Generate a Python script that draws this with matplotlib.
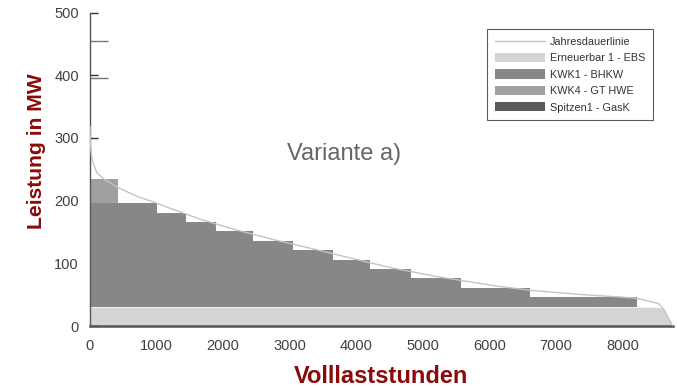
import matplotlib.pyplot as plt
import numpy as np

plt.rcParams['font.family'] = ['Liberation Sans', 'DejaVu Sans']

# Jahresdauerlinie (Stunden, MW)
dauer_h = [0, 5, 30, 100, 200, 400, 700, 1000, 1225, 1665, 2170, 2750, 3350,
           3930, 4520, 5200, 6090, 6610, 7400, 8000, 8225, 8540, 8620, 8680,
           8730, 8760]
dauer_mw = [318, 290, 265, 245, 235, 222, 207, 196, 187, 170, 154, 138, 123,
            108, 93, 79, 64, 57, 50, 46, 44, 36, 27, 15, 5, 0]

# Erneuerbar 1 - EBS (Grundlast)
ebs_mw = 30

# KWK1 - BHKW: Stufen (Grenzen in Stunden, Leistung oberhalb EBS)
bhkw_edges = [0, 1010, 1440, 1890, 2450, 3050, 3650, 4210, 4830, 5575, 6610, 8225]
bhkw_mw = [166, 151, 136, 122, 106, 91, 76, 61, 46, 31, 16]

# KWK4 - GT HWE
hwe_edges = [0, 415]
hwe_mw = [38]

# Spitzen1 - GasK
gask_edges = [0, 20]
gask_mw = [84]

c_line = '#c4c4c4'
c_ebs = '#d4d4d4'
c_bhkw = '#878787'
c_hwe = '#a0a0a0'
c_gask = '#5a5a5a'
c_red = '#8b0a0a'
c_txt = '#404040'

fig = plt.figure(figsize=(6.77, 3.87), dpi=100)
ax = fig.add_axes([90 / 677, 61 / 387, 583 / 677, 313.5 / 387])

h = np.array(dauer_h)
p = np.array(dauer_mw)
ax.fill_between(h, 0, np.minimum(p, ebs_mw), color=c_ebs, lw=0,
                label='Erneuerbar 1 - EBS', zorder=1)

left = np.array(bhkw_edges[:-1])
width = np.diff(bhkw_edges)
ax.bar(left, bhkw_mw, width=width, bottom=ebs_mw, align='edge',
       color=c_bhkw, lw=0, label='KWK1 - BHKW', zorder=2)

hwe_bottom = ebs_mw + bhkw_mw[0]
ax.bar(hwe_edges[:-1], hwe_mw, width=np.diff(hwe_edges), bottom=hwe_bottom,
       align='edge', color=c_hwe, lw=0, label='KWK4 - GT HWE', zorder=2)

ax.bar(gask_edges[:-1], gask_mw, width=np.diff(gask_edges),
       bottom=hwe_bottom + hwe_mw[0], align='edge', color=c_gask, lw=0,
       label='Spitzen1 - GasK', zorder=2)

ax.plot(h, p, color=c_line, lw=1.0, label='Jahresdauerlinie', zorder=3)

ax.set_xlim(0, 8760)
ax.set_ylim(0, 500)
ax.set_xticks(np.arange(0, 9000, 1000))
ax.set_yticks(np.arange(0, 600, 100))
ax.set_yticks([395, 455], minor=True)
ax.tick_params(axis='x', length=0, pad=9, labelsize=10.5, labelcolor=c_txt)
ax.tick_params(axis='y', which='major', direction='in', length=6, width=1,
               color='#333333', pad=8, labelsize=10.5, labelcolor=c_txt)
ax.tick_params(axis='y', which='minor', direction='in', length=13, width=1,
               color='#777777')

for s in ['top', 'right']:
    ax.spines[s].set_visible(False)
ax.spines['left'].set_color('#555555')
ax.spines['left'].set_linewidth(1.0)
ax.spines['bottom'].set_color('#555555')
ax.spines['bottom'].set_linewidth(1.8)

ax.set_xlabel('Volllaststunden', fontsize=17, fontweight='bold', color=c_red,
              labelpad=9)
ax.set_ylabel('Leistung in MW', fontsize=15.2, fontweight='bold', color=c_red)
ax.yaxis.set_label_coords(-0.076, 0.558)

# Beschriftung der Variante (Pixelkoordinaten der Abbildung)
ax.text(344, 387 - 154, 'Variante a)', transform=None, fontsize=17,
        color='#666666', ha='center', va='center')

handles, labels = ax.get_legend_handles_labels()
order = ['Jahresdauerlinie', 'Erneuerbar 1 - EBS', 'KWK1 - BHKW',
         'KWK4 - GT HWE', 'Spitzen1 - GasK']
hl = dict(zip(labels, handles))
leg = ax.legend([hl[k] for k in order], order, loc='upper right',
                bbox_to_anchor=(0.966, 0.947), fontsize=7.8, frameon=True,
                fancybox=False, edgecolor='#333333', handlelength=4.6,
                handleheight=0.95, labelspacing=0.55, handletextpad=0.5,
                borderpad=0.7, borderaxespad=0)
leg.get_frame().set_linewidth(0.8)
for t in leg.get_texts():
    t.set_color('#333333')

fig.savefig('out.png', dpi=100)
